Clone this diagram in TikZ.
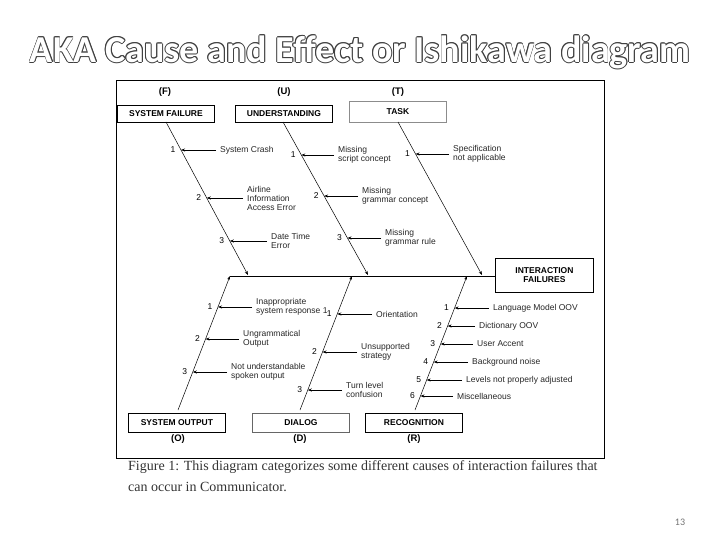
\documentclass[tikz,border=0pt]{standalone}
\usepackage{fontspec}
\setmainfont{Liberation Sans}
\newfontfamily\capfont{Liberation Serif}
\newfontfamily\titfont{Carlito}
\usetikzlibrary{arrows.meta,calc}
\newcommand\cause[8]{%
  \pgfmathsetmacro\bx{#1+(#3-#1)*(#5-#2)/(#4-#2)}%
  \coordinate (bp) at (\bx,#5);
  \node[ctext] (ct) at (#6,#5) {#8};
  \draw[carrow] ([xshift=-4pt]ct.west) -- (bp);
  \node[num] (nm) at (\bx-8,#5) {#7};
}
\begin{document}
\begin{tikzpicture}[x=1pt,y=-1pt,
  box/.style={draw,line width=0.9pt,minimum width=97pt,minimum height=17pt,inner sep=1pt,font=\fontsize{8.5}{9}\selectfont\bfseries},
  lbl/.style={font=\fontsize{9.5}{10}\selectfont\bfseries},
  ctext/.style={anchor=west,align=left,inner sep=0pt,font=\fontsize{8.5}{9}\selectfont,text=black!85},
  num/.style={inner sep=0pt,font=\fontsize{8.5}{9}\selectfont},
  carrow/.style={-{Stealth[length=4pt,width=3pt]},line width=0.7pt},
  bone/.style={-{Stealth[length=4pt,width=3pt]},line width=0.5pt}]
\useasboundingbox (0,0) rectangle (720,540);
% title
\foreach \dx/\dy in {-0.9/0,0.9/0,0/-0.9,0/0.9,-0.65/-0.65,0.65/0.65,-0.65/0.65,0.65/-0.65}
  \node[text=black!75,font=\titfont\bfseries\fontsize{38}{40}\selectfont] at (360+\dx,52+\dy) {AKA Cause and Effect or Ishikawa diagram};
\node[text=white,font=\titfont\bfseries\fontsize{38}{40}\selectfont] (title) at (360,52) {AKA Cause and Effect or Ishikawa diagram};
% frame
\node[draw,line width=0.8pt,minimum width=488pt,minimum height=378pt,anchor=north west,inner sep=0pt] (frame) at (116,80) {};
% boxes
\node[box,anchor=north west] (F) at (117,105) {SYSTEM FAILURE};
\node[lbl] (Fl) at (165,92) {(F)};
\node[box,anchor=north west] (U) at (235,105) {UNDERSTANDING};
\node[lbl] (Ul) at (284,92) {(U)};
\node[box,draw=black!45,minimum height=21pt,anchor=north west] (T) at (349,101) {TASK};
\node[lbl] (Tl) at (398,92) {(T)};
\node[box,minimum width=98pt,minimum height=34pt,align=center,anchor=north west] (I) at (495,258) {INTERACTION\\FAILURES};
\node[box,minimum height=19pt,anchor=north west] (O) at (128,413) {SYSTEM OUTPUT};
\node[lbl] (Ol) at (178,439) {(O)};
\node[box,draw=black!60,minimum height=19pt,anchor=north west] (D) at (252,413) {DIALOG};
\node[lbl] (Dl) at (300,439) {(D)};
\node[box,minimum height=19pt,anchor=north west] (R) at (365,413) {RECOGNITION};
\node[lbl] (Rl) at (414,439) {(R)};
% spine
\coordinate (s0) at (230,276);
\draw[line width=0.9pt] (s0) -- (I.west |- s0);
% bones
\coordinate (fb) at (248,275); \coordinate (ub) at (368,275); \coordinate (tb) at (482,275);
\draw[bone] (166,122) -- (fb);
\draw[bone] (283,122) -- (ub);
\draw[bone] (398,122) -- (tb);
\coordinate (ob) at (230,276); \coordinate (db) at (352,276); \coordinate (rb) at (467,276);
\draw[bone] (178,410) -- (ob);
\draw[bone] (300,410) -- (db);
\draw[bone] (415,410) -- (rb);
% causes top
\cause{166}{122}{248}{275}{150}{220}{1}{System Crash}
\cause{166}{122}{248}{275}{198}{247}{2}{Airline\\Information\\Access Error}
\cause{166}{122}{248}{275}{241}{271}{3}{Date Time\\Error}
\cause{283}{122}{368}{275}{155}{338}{1}{Missing\\script concept}
\cause{283}{122}{368}{275}{196}{362}{2}{Missing\\grammar concept}
\cause{283}{122}{368}{275}{238}{385}{3}{Missing\\grammar rule}
\cause{398}{122}{482}{275}{154}{453}{1}{Specification\\not applicable}
% causes bottom
\cause{178}{410}{230}{276}{307}{256}{1}{Inappropriate\\system response 1}
\cause{178}{410}{230}{276}{339}{243}{2}{Ungrammatical\\Output}
\cause{178}{410}{230}{276}{372}{231}{3}{Not understandable\\spoken output}
\cause{300}{410}{352}{276}{314}{376}{1}{Orientation}
\cause{300}{410}{352}{276}{352}{361}{2}{Unsupported\\strategy}
\cause{300}{410}{352}{276}{390}{346}{3}{Turn level\\confusion}
\cause{415}{410}{467}{276}{308}{493}{1}{Language Model OOV}
\cause{415}{410}{467}{276}{326}{479}{2}{Dictionary OOV}
\cause{415}{410}{467}{276}{344}{477}{3}{User Accent}
\cause{415}{410}{467}{276}{362}{472}{4}{Background noise}
\cause{415}{410}{467}{276}{380}{466}{5}{Levels not properly adjusted}
\cause{415}{410}{467}{276}{396}{457}{6}{Miscellaneous}
% caption
\node[anchor=north west,align=left,inner sep=0pt,text=black!80,font=\capfont\fontsize{14}{21}\selectfont] (cap) at (128,460)
 {Figure 1: This diagram categorizes some different causes of interaction failures that\\can occur in Communicator.};
\node[text=black!55,font=\titfont\fontsize{10}{12}\selectfont] (pg) at (680,522) {13};
\end{tikzpicture}
\end{document}
